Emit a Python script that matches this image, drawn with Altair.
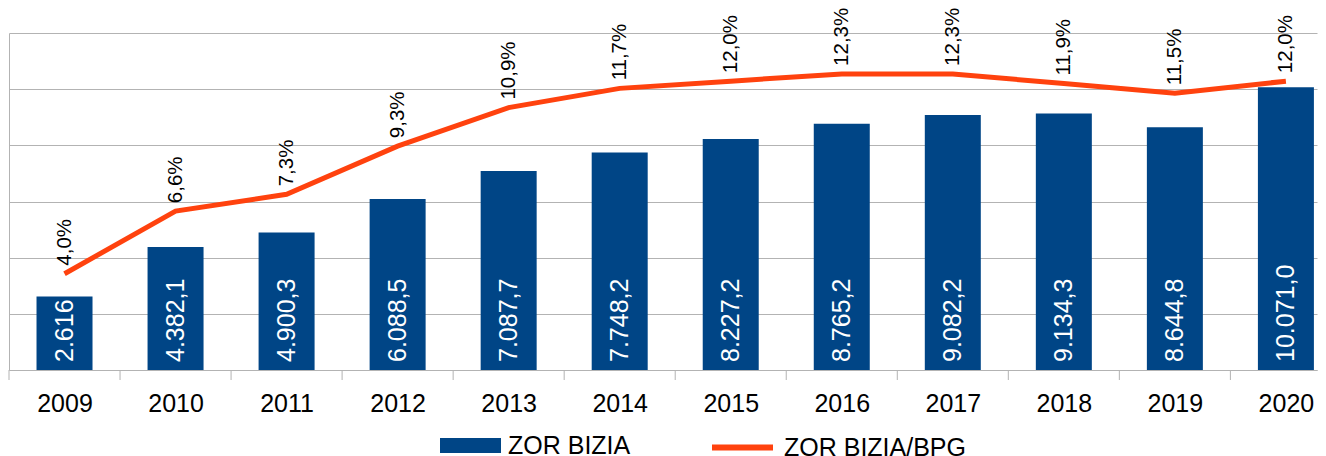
import altair as alt
import pandas as pd

years = [2009, 2010, 2011, 2012, 2013, 2014, 2015, 2016, 2017, 2018, 2019, 2020]
debt = [2616.0, 4382.1, 4900.3, 6088.5, 7087.7, 7748.2, 8227.2, 8765.2, 9082.2, 9134.3, 8644.8, 10071.0]
debt_labels = ["2.616", "4.382,1", "4.900,3", "6.088,5", "7.087,7", "7.748,2",
               "8.227,2", "8.765,2", "9.082,2", "9.134,3", "8.644,8", "10.071,0"]
ratio = [4.0, 6.6, 7.3, 9.3, 10.9, 11.7, 12.0, 12.3, 12.3, 11.9, 11.5, 12.0]
ratio_labels = ["4,0%", "6,6%", "7,3%", "9,3%", "10,9%", "11,7%",
                "12,0%", "12,3%", "12,3%", "11,9%", "11,5%", "12,0%"]
series_bar = "ZOR BIZIA"
series_line = "ZOR BIZIA/BPG"
grid_values = [0, 2000, 4000, 6000, 8000, 10000, 12000]

df = pd.DataFrame({
    "year": years, "debt": debt, "debt_label": debt_labels,
    "ratio": ratio, "ratio_label": ratio_labels,
    "s_bar": series_bar, "s_line": series_line,
})
bounds = pd.DataFrame({"b": [y - 0.5 for y in years]})

FONT = "Liberation Sans"
BLUE = "#004586"
ORANGE = "#ff420e"
GRID = "#b3b3b3"

x_scale = alt.Scale(domain=[2008.5, 2020.28], nice=False, zero=False, padding=0)

x_enc = alt.X(
    "year:Q",
    scale=x_scale,
    axis=alt.Axis(
        values=years, format="d",
        labelFont=FONT, labelFontSize=25, labelColor="black",
        labelPadding=21, labelFlush=False, labelOverlap=False,
        ticks=False, domainColor=GRID, grid=False, title=None,
    ),
)

base = alt.Chart(df)

bars = base.mark_bar(size=56).encode(
    x=x_enc,
    y=alt.Y("debt:Q", scale=alt.Scale(domain=[0, 12000], nice=False),
            axis=alt.Axis(values=grid_values, labels=False, ticks=False, grid=True,
                          gridColor=GRID, domainColor=GRID, title=None)),
    color=alt.Color("s_bar:N", scale=alt.Scale(domain=[series_bar], range=[BLUE]),
                    title=None,
                    legend=alt.Legend(orient="none", legendX=431, legendY=382,
                                      symbolType="M-1,-0.246L1,-0.246L1,0.246L-1,0.246Z",
                                      symbolSize=3721, symbolStrokeWidth=0,
                                      labelOffset=7)),
)

bar_text = base.mark_text(angle=270, align="left", baseline="middle", dx=8,
                          color="white", font=FONT, fontSize=25).encode(
    x=alt.X("year:Q"),
    y=alt.datum(0),
    text="debt_label:N",
)

ticks = alt.Chart(bounds).mark_rule(color=GRID, strokeWidth=1).encode(
    x=alt.X("b:Q"),
    y=alt.value(337),
    y2=alt.value(347),
)

line = base.mark_line(strokeWidth=5).encode(
    x=alt.X("year:Q"),
    y=alt.Y("ratio:Q", scale=alt.Scale(domain=[0, 14], nice=False), axis=None),
    stroke=alt.Stroke("s_line:N", scale=alt.Scale(domain=[series_line], range=[ORANGE]),
                      title=None,
                      legend=alt.Legend(orient="none", legendX=700, legendY=381,
                                        symbolType="stroke", symbolSize=3721,
                                        symbolStrokeWidth=6, labelOffset=8)),
)

line_text = base.mark_text(angle=270, align="left", baseline="middle", dx=8,
                           color="black", font=FONT, fontSize=20.5).encode(
    x=alt.X("year:Q"),
    y=alt.Y("ratio:Q", scale=alt.Scale(domain=[0, 14], nice=False), axis=None),
    text="ratio_label:N",
)

chart = alt.layer(
    alt.layer(bars, bar_text, ticks),
    alt.layer(line, line_text),
).resolve_scale(
    y="independent"
).properties(
    width=1308, height=337,
    padding={"left": 1, "top": 25, "right": 1, "bottom": 86},
    autosize=alt.AutoSizeParams(type="none"),
).configure_view(
    strokeWidth=0
).configure_legend(
    padding=0, labelFont=FONT, labelFontSize=25, labelColor="black", labelLimit=400
)

chart.save("out.html", embed_options={"renderer": "svg", "actions": False})
